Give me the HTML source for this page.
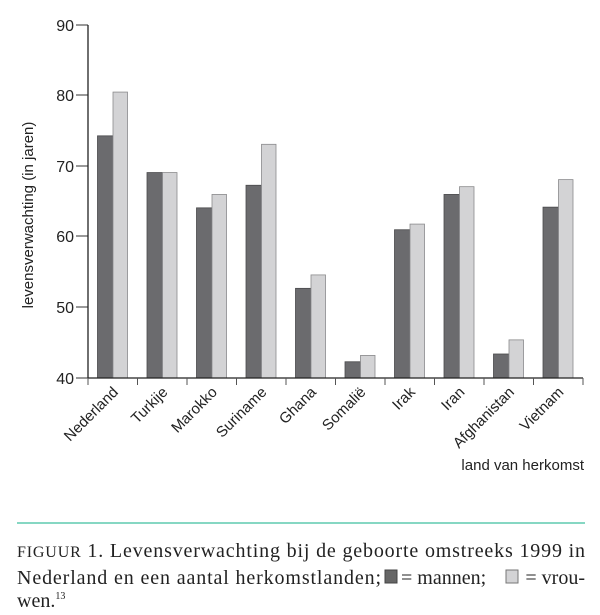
<!DOCTYPE html>
<html><head><meta charset="utf-8"><style>
body{margin:0;background:#fff;width:600px;height:610px;overflow:hidden}
</style></head><body>
<svg width="600" height="610" xmlns="http://www.w3.org/2000/svg">
<g font-family="Liberation Sans, sans-serif" fill="#222">
<text x="74" y="31" font-size="16" text-anchor="end">90</text>
<text x="74" y="101" font-size="16" text-anchor="end">80</text>
<text x="74" y="172" font-size="16" text-anchor="end">70</text>
<text x="74" y="242" font-size="16" text-anchor="end">60</text>
<text x="74" y="313" font-size="16" text-anchor="end">50</text>
<text x="74" y="384" font-size="16" text-anchor="end">40</text>
<text transform="translate(33,215) rotate(-90)" font-size="15" text-anchor="middle">levensverwachting (in jaren)</text>
</g>
<g stroke="#333" stroke-width="1">
<line x1="76" y1="25" x2="88" y2="25"/><line x1="76" y1="95" x2="88" y2="95"/>
<line x1="76" y1="166" x2="88" y2="166"/><line x1="76" y1="236" x2="88" y2="236"/>
<line x1="76" y1="307" x2="88" y2="307"/><line x1="76" y1="378" x2="88" y2="378"/>
</g>
<g id="bars"></g>
<line x1="88" y1="25" x2="88" y2="378" stroke="#222" stroke-width="1.3"/>
<line x1="88" y1="378" x2="583" y2="378" stroke="#222" stroke-width="1.3"/>
<g id="ticks" stroke="#555"></g>
<g id="labels" font-family="Liberation Sans, sans-serif" font-size="15" fill="#222"></g>
<text x="584" y="470" font-family="Liberation Sans, sans-serif" font-size="15" text-anchor="end" fill="#222">land van herkomst</text>
<line x1="17" y1="523" x2="585" y2="523" stroke="#3dbf9f" stroke-width="1.3"/>
<g font-family="Liberation Serif, serif" font-size="20" fill="#222">
<text x="17" y="557" textLength="568" lengthAdjust="spacing"><tspan font-size="16">FIGUUR</tspan> 1. Levensverwachting bij de geboorte omstreeks 1999 in</text>
<text x="17" y="584" textLength="364" lengthAdjust="spacing">Nederland en een aantal herkomstlanden;</text>
<text x="401" y="584">= mannen;</text>
<text x="585" y="584" text-anchor="end">= vrou-</text>
<text x="17" y="607">wen.<tspan font-size="10" dy="-8">13</tspan></text>
</g>
<rect x="385" y="570" width="12" height="13" fill="#666" stroke="#444"/>
<rect x="506" y="570" width="12" height="13" fill="#d3d3d5" stroke="#777"/>
<script>
var d=[["Nederland",74.3,80.5],["Turkije",69.1,69.1],["Marokko",64.1,66],["Suriname",67.3,73.1],["Ghana",52.7,54.6],["Somalië",42.3,43.2],["Irak",61,61.8],["Iran",66,67.1],["Afghanistan",43.4,45.4],["Vietnam",64.2,68.1]];
var ns="http://www.w3.org/2000/svg",b=document.getElementById("bars"),t=document.getElementById("ticks"),l=document.getElementById("labels");
function y(v){return 378-(v-40)*7.06;}
function el(p,n,a){var e=document.createElementNS(ns,n);for(var k in a)e.setAttribute(k,a[k]);p.appendChild(e);return e;}
for(var i=0;i<=10;i++){var x=88+i*49.5;el(t,"line",{x1:x,y1:378,x2:x,y2:385});}
d.forEach(function(r,i){var x0=88+i*49.5+9.5;
el(b,"rect",{x:x0,y:y(r[1]),width:15.5,height:378-y(r[1]),fill:"#6b6b6e",stroke:"#4a4a4c","stroke-width":0.8});
el(b,"rect",{x:x0+15.5,y:y(r[2]),width:14.5,height:378-y(r[2]),fill:"#d3d3d5",stroke:"#8a8a8c","stroke-width":0.8});
var cx=88+i*49.5+31;var tx=el(l,"text",{transform:"translate("+cx+",393) rotate(-45)","text-anchor":"end"});tx.textContent=r[0];});
</script>
</svg>
</body></html>
